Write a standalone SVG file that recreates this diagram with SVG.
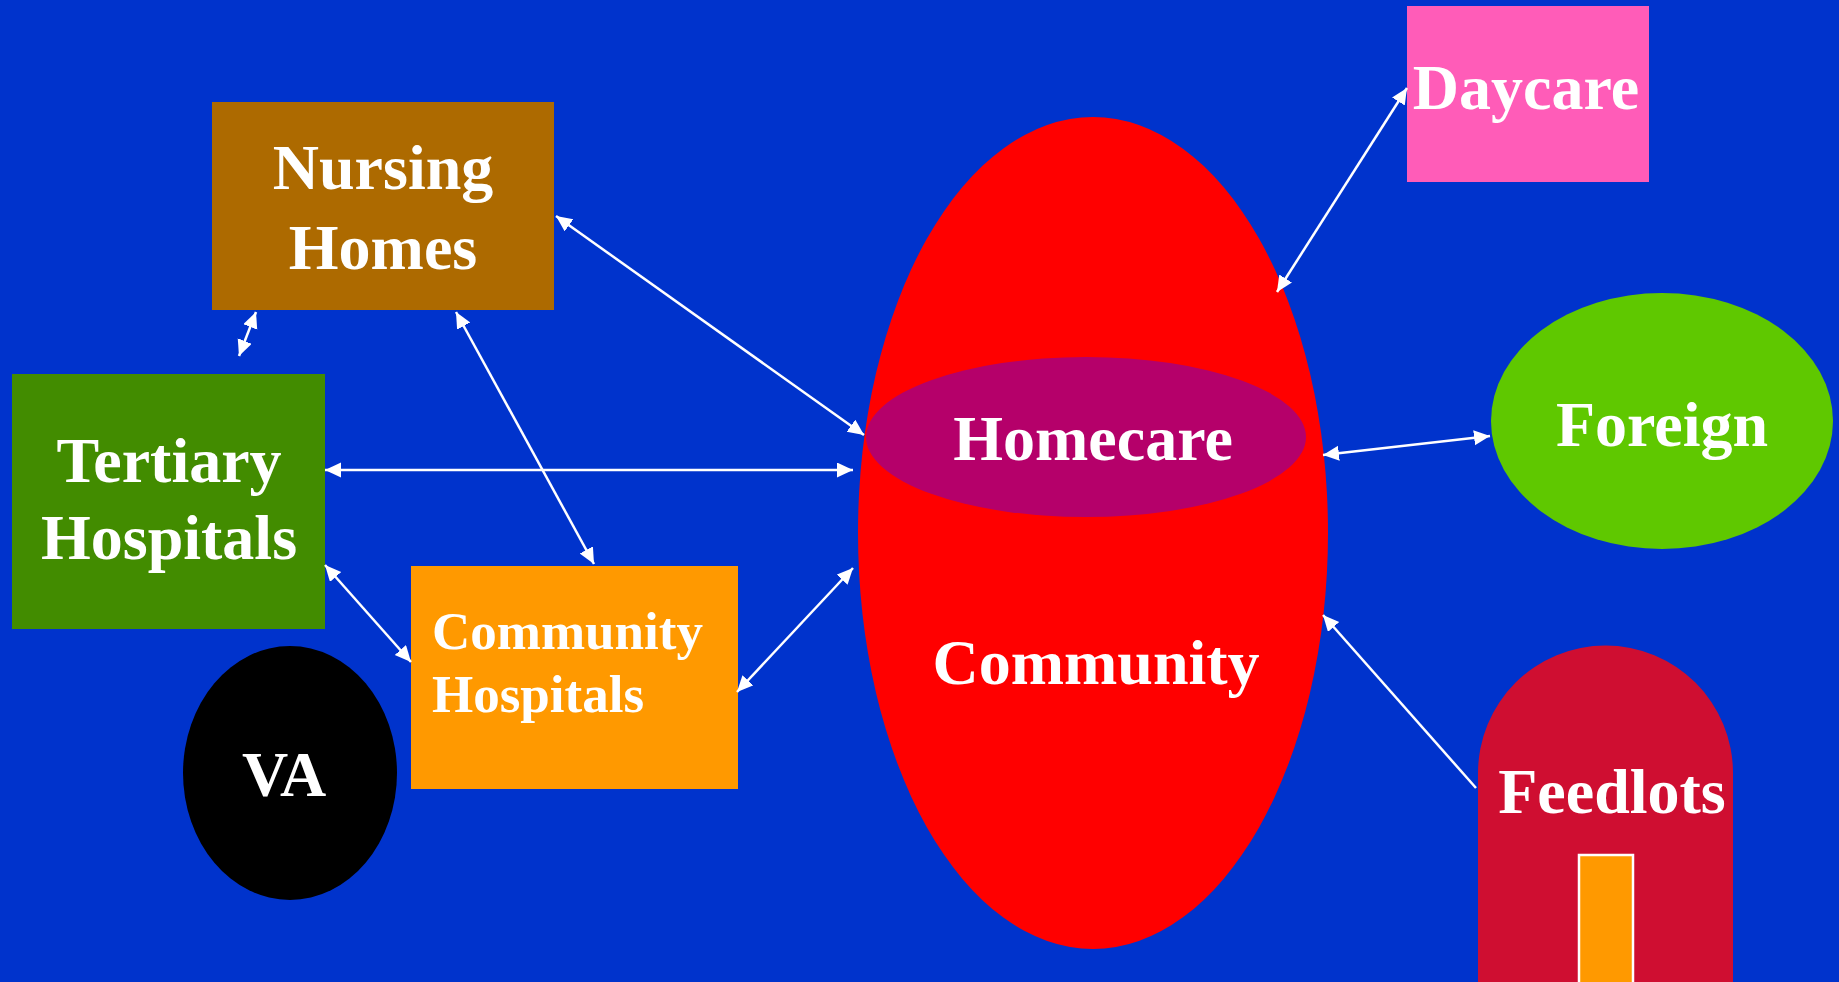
<svg xmlns="http://www.w3.org/2000/svg" width="1839" height="982" viewBox="0 0 1839 982">
<style>
.lbl{font-family:"Liberation Serif","Times New Roman",serif;font-weight:bold;fill:#fff;font-size:64px;text-anchor:middle}
.sm{font-size:53px;text-anchor:start}
.con{stroke:#fff;stroke-width:2.5;fill:none}
.two{marker-start:url(#ah);marker-end:url(#ah)}
.one{marker-end:url(#ah)}
</style>
<defs>
<marker id="ah" markerUnits="userSpaceOnUse" markerWidth="17" markerHeight="16" refX="16" refY="7.5" orient="auto-start-reverse" viewBox="0 0 17 16">
<path d="M0,0 L16,7.5 L0,15 Z" fill="#fff"/>
</marker>
</defs>
<rect x="0" y="0" width="1839" height="982" fill="#0033CC"/>
<g id="community">
<ellipse cx="1093" cy="533" rx="235" ry="416" fill="#FF0000"/>
<text class="lbl" x="1096" y="684">Community</text>
</g>
<g id="homecare">
<ellipse cx="1086" cy="437" rx="220" ry="80" fill="#B5006A"/>
<text class="lbl" x="1093" y="460">Homecare</text>
</g>
<g id="nursing-homes">
<rect x="212" y="102" width="342" height="208" fill="#AD6A00"/>
<text class="lbl" x="383" y="189">Nursing</text>
<text class="lbl" x="383" y="269">Homes</text>
</g>
<g id="tertiary-hospitals">
<rect x="12" y="374" width="313" height="255" fill="#428C00"/>
<text class="lbl" x="169" y="482">Tertiary</text>
<text class="lbl" x="169" y="559">Hospitals</text>
</g>
<g id="community-hospitals">
<rect x="411" y="566" width="327" height="223" fill="#FF9900"/>
<text class="lbl sm" x="432" y="649">Community</text>
<text class="lbl sm" x="432" y="712">Hospitals</text>
</g>
<g id="va">
<ellipse cx="290" cy="773" rx="107" ry="127" fill="#000"/>
<text class="lbl" x="284" y="796">VA</text>
</g>
<g id="daycare">
<rect x="1407" y="6" width="242" height="176" fill="#FF5CB8"/>
<text class="lbl" x="1526" y="109">Daycare</text>
</g>
<g id="foreign">
<ellipse cx="1662" cy="421" rx="171" ry="128" fill="#5FC800"/>
<text class="lbl" x="1662" y="446">Foreign</text>
</g>
<g id="feedlots">
<path d="M1478,982 L1478,773 A127.5,127.5 0 0 1 1733,773 L1733,982 Z" fill="#CF0E31"/>
<rect x="1579" y="855" width="54" height="130" fill="#FF9900" stroke="#fff" stroke-width="2.5"/>
<text class="lbl" x="1612" y="813">Feedlots</text>
</g>
<g id="connectors">
<line class="con two" x1="556" y1="216" x2="864" y2="435"/>
<line class="con two" x1="256" y1="312" x2="239" y2="356"/>
<line class="con two" x1="456" y1="312" x2="594" y2="564"/>
<line class="con two" x1="325" y1="470" x2="853" y2="470"/>
<line class="con two" x1="325" y1="565" x2="411" y2="662"/>
<line class="con two" x1="737" y1="692" x2="853" y2="568"/>
<line class="con two" x1="1407" y1="88" x2="1277" y2="292"/>
<line class="con two" x1="1323" y1="455" x2="1490" y2="436"/>
<line class="con one" x1="1476" y1="788" x2="1323" y2="615"/>
</g>
</svg>
